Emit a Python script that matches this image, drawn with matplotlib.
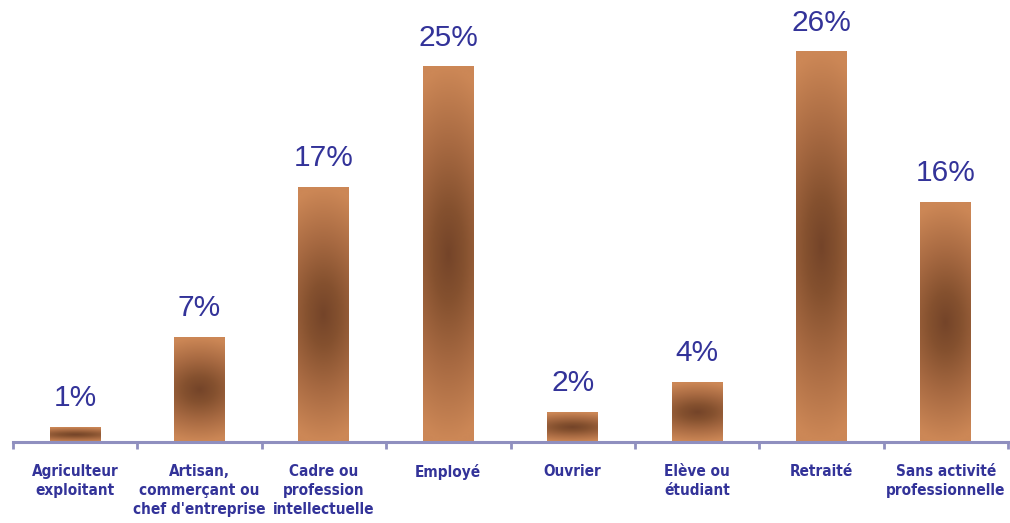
import numpy as np
import matplotlib
matplotlib.use("Agg")
import matplotlib.pyplot as plt
from matplotlib.colors import LinearSegmentedColormap

categories = ["Agriculteur\nexploitant", "Artisan,\ncommerçant ou\nchef d'entreprise",
              "Cadre ou\nprofession\nintellectuelle", "Employé", "Ouvrier",
              "Elève ou\nétudiant", "Retraité", "Sans activité\nprofessionnelle"]
values = [1, 7, 17, 25, 2, 4, 26, 16]
labels = ["1%", "7%", "17%", "25%", "2%", "4%", "26%", "16%"]

fig = plt.figure(figsize=(10.10, 5.23), dpi=100)
ax = fig.add_axes([13/1010, (523-442)/523, 995/1010, 442/523])

cmap = LinearSegmentedColormap.from_list("brown", [(0.0, "#744429"), (0.25, "#85512f"),
                                                  (0.6, "#a86a42"), (1.0, "#cc8756")])
width = 0.41
text_color = "#333399"
axis_color = "#8f8fbf"

for i, v in enumerate(values):
    ny, nx = 200, 60
    yy = np.linspace(-1, 1, ny)[:, None]
    xx = np.linspace(-1, 1, nx)[None, :]
    t = np.sqrt(yy**2 + 0.15 * xx**2) / np.sqrt(1.15) * 1.08
    t = np.clip(t, 0, 1)
    ax.imshow(t, cmap=cmap, vmin=0, vmax=1, aspect="auto", interpolation="bilinear",
              extent=[i - width/2, i + width/2, 0, v], origin="lower", zorder=2)
    ax.text(i, v + 1.0, labels[i], ha="center", va="bottom", fontsize=21.5,
            color=text_color, family="Liberation Sans")

ax.set_xlim(-0.5, 7.5)
ax.set_ylim(0, 442/15)

for s in ["top", "right", "left"]:
    ax.spines[s].set_visible(False)
ax.spines["bottom"].set_color(axis_color)
ax.spines["bottom"].set_linewidth(2.2)
ax.spines["bottom"].set_zorder(3)
ax.set_yticks([])

ax.set_xticks(np.arange(-0.5, 8.0, 1.0))
ax.set_xticklabels([])
ax.tick_params(axis="x", direction="out", length=5, width=2, color=axis_color)
ax.set_xticks(np.arange(8), minor=True)
ax.set_xticklabels(categories, minor=True, fontsize=11, color=text_color,
                   family="DejaVu Sans", fontstretch="condensed", fontweight="bold",
                   linespacing=1.32)
ax.tick_params(axis="x", which="minor", length=0, pad=16)

fig.savefig("out.png", dpi=100, facecolor="white")
